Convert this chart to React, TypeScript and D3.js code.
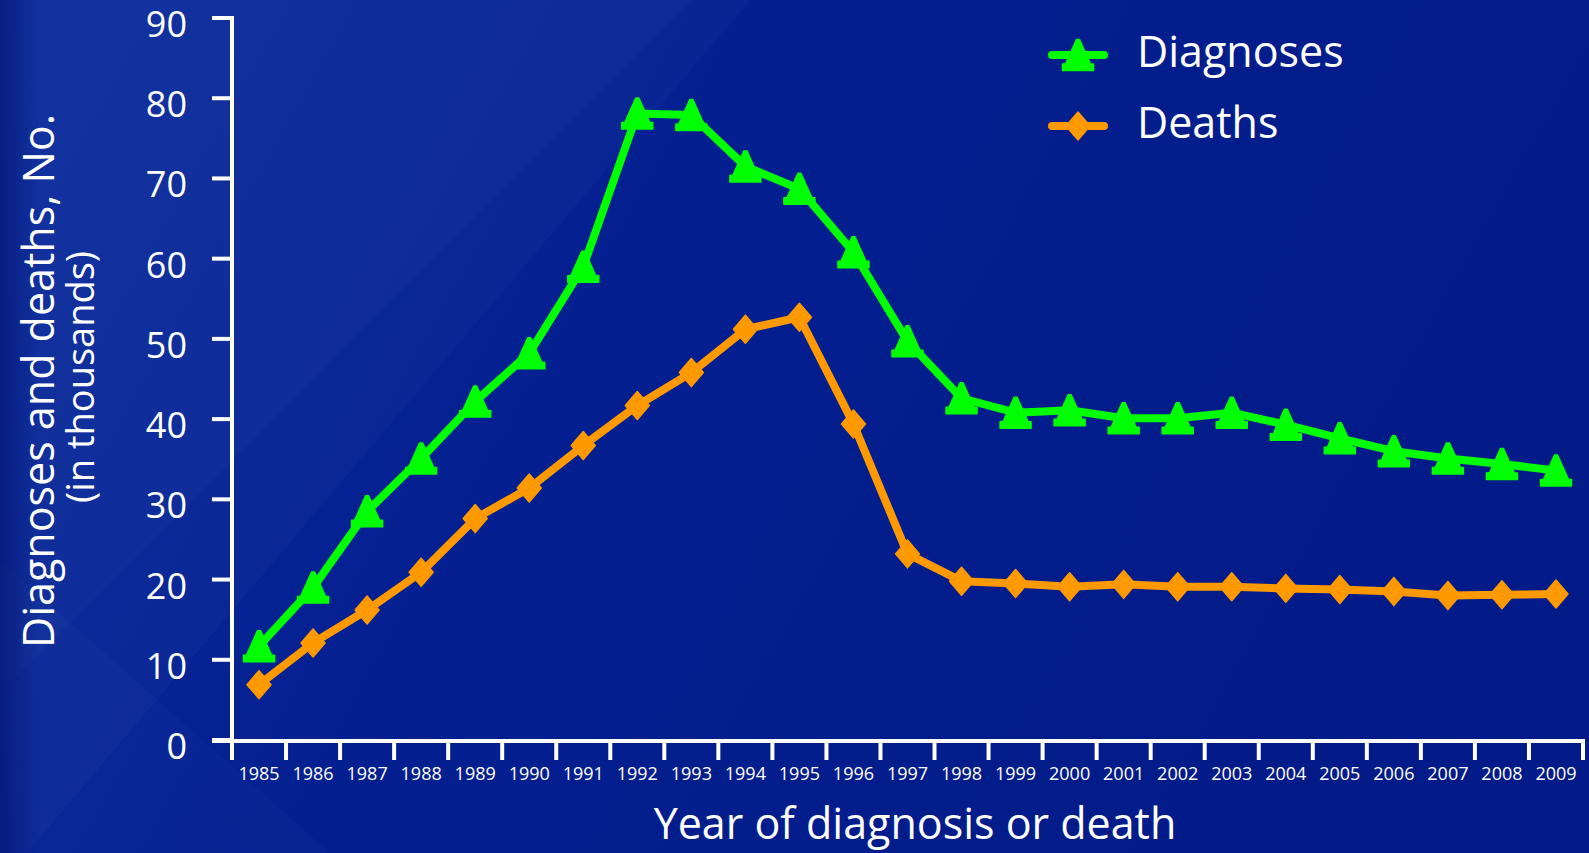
import * as React from 'react'
import * as d3 from 'd3'

// values, in thousands
const years = [1985, 1986, 1987, 1988, 1989, 1990, 1991, 1992, 1993, 1994, 1995, 1996, 1997,
    1998, 1999, 2000, 2001, 2002, 2003, 2004, 2005, 2006, 2007, 2008, 2009]
const diagnoses = [11.7, 19.0, 28.5, 35.1, 42.2, 48.2, 59.0, 78.1, 77.9, 71.5, 68.7, 60.8, 49.7,
    42.6, 40.8, 41.1, 40.1, 40.1, 40.8, 39.3, 37.6, 36.0, 35.1, 34.4, 33.6]
const deaths = [6.9, 12.1, 16.2, 20.9, 27.6, 31.4, 36.7, 41.7, 45.8, 51.2, 52.7, 39.4, 23.2,
    19.8, 19.5, 19.1, 19.4, 19.1, 19.1, 18.9, 18.75, 18.5, 18.0, 18.1, 18.2]
const yTicks = [0, 10, 20, 30, 40, 50, 60, 70, 80, 90]
const seriesNames = ['Diagnoses', 'Deaths']
const seriesColors = ['#00ff00', '#ff9900']

const W = 1589
const H = 853
const FONT = '"Open Sans", sans-serif'

const triPath = 'M-1.5,-15.5 L1.5,-15.5 L12.5,9 L15.5,9 L15.5,15.5 L-15.5,15.5 L-15.5,9 L-12.5,9 Z'
const diaPath = 'M0,-14 L12,0 L0,14 L-12,0 Z'

const Marker = ({ kind, color, cx, cy }: { kind: number, color: string, cx: number, cy: number }) => (
    <path
        d={kind === 0 ? triPath : diaPath}
        transform={`translate(${cx},${cy})`}
        fill={color}
        stroke={color}
        strokeWidth={1.5}
        strokeLinejoin="round"
    />
)

const App = () => {
    const x = d3.scaleBand<number>().domain(years).range([232, 1583]).padding(0)
    const y = d3.scaleLinear().domain([0, 90]).range([740, 18])
    const cx = (yr: number) => (x(yr) as number) + x.bandwidth() / 2

    const series = [diagnoses, deaths]
    const line = d3.line<number>()
        .x((d, i) => cx(years[i]))
        .y(d => y(d))

    const xTickPos = years.map(yr => x(yr) as number).concat([x.range()[1]])

    return (
        <svg width={W} height={H} style={{ position: 'absolute', left: 0, top: 0, display: 'block' }}
            fontFamily={FONT}>
            <defs>
                <linearGradient id="bg" x1="0" y1="0" x2="1" y2="0.3">
                    <stop offset="0" stopColor="#0a2b9e" />
                    <stop offset="0.45" stopColor="#041f90" />
                    <stop offset="1" stopColor="#021b88" />
                </linearGradient>
                <linearGradient id="edge" x1="0" y1="0" x2="1" y2="0">
                    <stop offset="0" stopColor="#001070" stopOpacity="0.6" />
                    <stop offset="1" stopColor="#001070" stopOpacity="0" />
                </linearGradient>
            </defs>

            {/* background with soft diagonal streaks */}
            <rect width={W} height={H} fill="url(#bg)" />
            <polygon points="0,0 750,0 27,853 0,853" fill="#ffffff" opacity={0.025} />
            <polygon points="0,0 693,0 0,693" fill="#ffffff" opacity={0.02} />
            <polygon points="0,853 0,560 330,853" fill="#ffffff" opacity={0.02} />
            <rect x={0} y={0} width={40} height={H} fill="url(#edge)" />

            {/* y axis */}
            <line x1={232} x2={232} y1={y(90) - 2} y2={743} stroke="#fff" strokeWidth={4} />
            {yTicks.map(t => (
                <g key={t}>
                    <line x1={212} x2={232} y1={y(t)} y2={y(t)} stroke="#fff" strokeWidth={4} />
                    <text x={187} y={y(t) + 19} textAnchor="end" fill="#fff" fontSize={36}>{t}</text>
                </g>
            ))}

            {/* x axis */}
            <line x1={212} x2={1585} y1={741} y2={741} stroke="#fff" strokeWidth={4} />
            {xTickPos.map((p, i) => (
                <line key={i} x1={p} x2={p} y1={741} y2={760} stroke="#fff" strokeWidth={4} />
            ))}
            {years.map(yr => (
                <text key={yr} x={cx(yr)} y={780} textAnchor="middle" fill="#fff" fontSize={18}>{yr}</text>
            ))}

            {/* titles */}
            <text transform="translate(54,381) rotate(-90)" textAnchor="middle" fill="#fff" fontSize={43}>
                Diagnoses and deaths, No.
            </text>
            <text transform="translate(94,377) rotate(-90)" textAnchor="middle" fill="#fff" fontSize={38}>
                (in thousands)
            </text>
            <text x={915} y={839} textAnchor="middle" fill="#fff" fontSize={43}>Year of diagnosis or death</text>

            {/* series */}
            {series.map((vals, s) => (
                <g key={seriesNames[s]}>
                    <path d={line(vals) as string} fill="none" stroke={seriesColors[s]} strokeWidth={8}
                        strokeLinejoin="round" />
                    {vals.map((v, i) => (
                        <Marker key={i} kind={s} color={seriesColors[s]} cx={cx(years[i])} cy={y(v)} />
                    ))}
                </g>
            ))}

            {/* legend */}
            {seriesNames.map((name, s) => {
                const ly = s === 0 ? 55 : 126
                return (
                    <g key={name}>
                        <line x1={1052} x2={1104} y1={ly} y2={ly} stroke={seriesColors[s]} strokeWidth={8}
                            strokeLinecap="round" />
                        <Marker kind={s} color={seriesColors[s]} cx={1078} cy={ly} />
                        <text x={1137} y={ly + 12} fill="#fff" fontSize={43}>{name}</text>
                    </g>
                )
            })}
        </svg>
    )
}

export default App
